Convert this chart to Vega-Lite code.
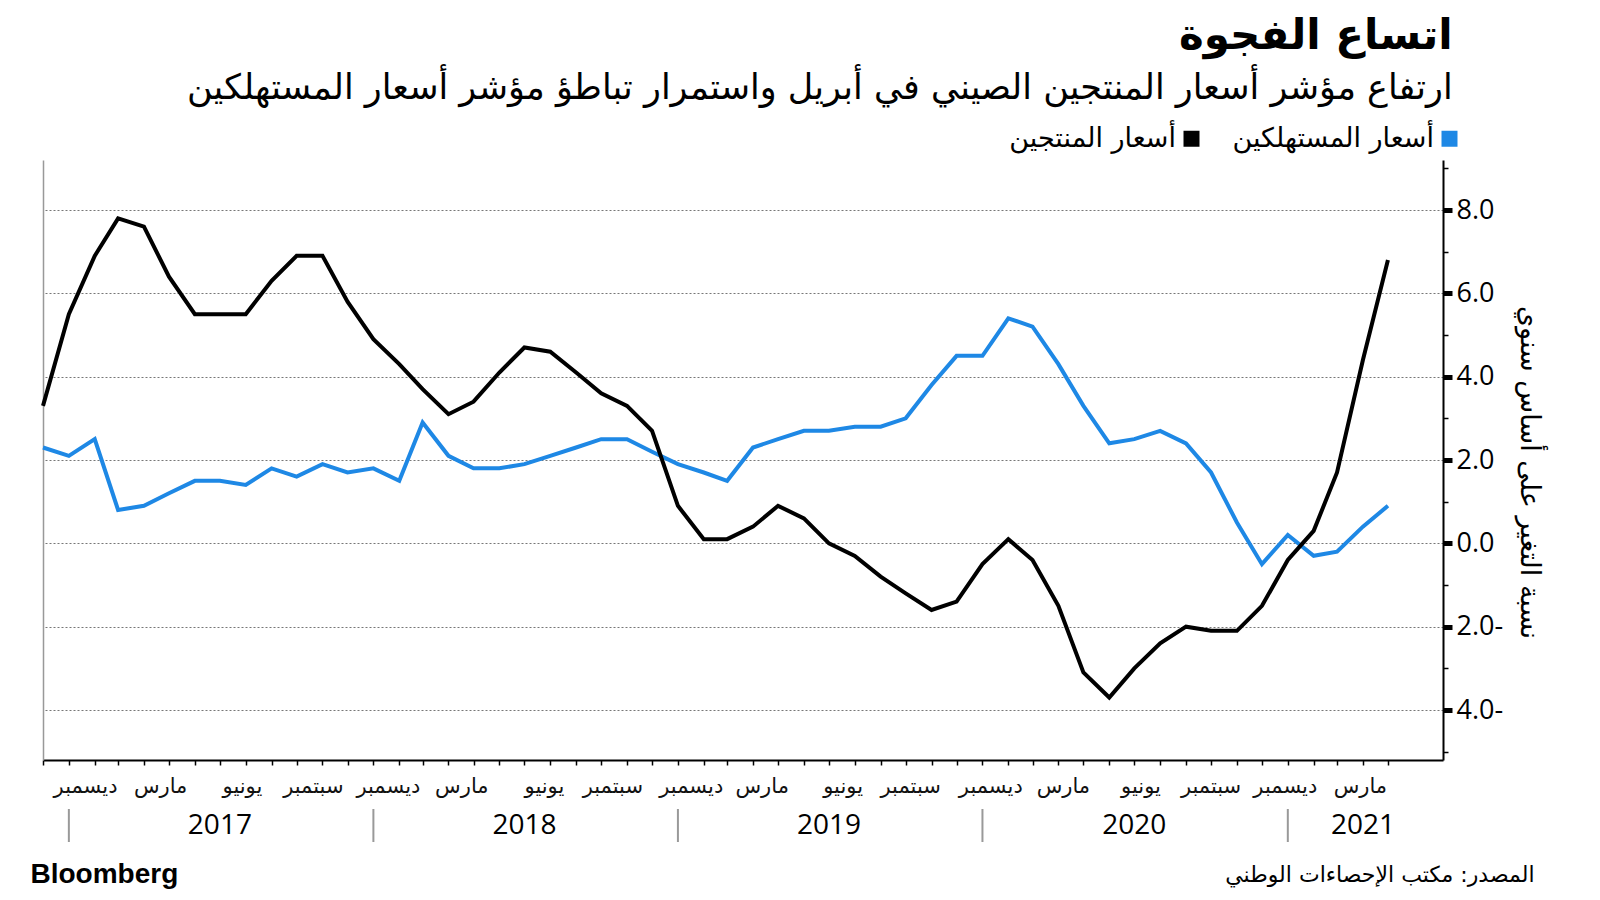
{
  "$schema": "https://vega.github.io/schema/vega-lite/v6.json",
  "padding": {"left": 30, "top": 15, "right": 10, "bottom": 10},
  "background": "white",
  "title": {
    "text": "اتساع الفجوة",
    "subtitle": "ارتفاع مؤشر أسعار المنتجين الصيني في أبريل واستمرار تباطؤ مؤشر أسعار المستهلكين",
    "anchor": "end",
    "dx": -90,
    "font": "DejaVu Sans",
    "fontSize": 42,
    "fontWeight": "bold",
    "color": "#000",
    "subtitleFont": "DejaVu Sans",
    "subtitleFontSize": 35,
    "subtitleColor": "#000",
    "subtitlePadding": 13,
    "offset": 18
  },
  "datasets": {
    "series": [
      {"date": "2016-11-30", "ppi": 3.3, "cpi": 2.3},
      {"date": "2016-12-31", "ppi": 5.5, "cpi": 2.1},
      {"date": "2017-01-31", "ppi": 6.9, "cpi": 2.5},
      {"date": "2017-02-28", "ppi": 7.8, "cpi": 0.8},
      {"date": "2017-03-31", "ppi": 7.6, "cpi": 0.9},
      {"date": "2017-04-30", "ppi": 6.4, "cpi": 1.2},
      {"date": "2017-05-31", "ppi": 5.5, "cpi": 1.5},
      {"date": "2017-06-30", "ppi": 5.5, "cpi": 1.5},
      {"date": "2017-07-31", "ppi": 5.5, "cpi": 1.4},
      {"date": "2017-08-31", "ppi": 6.3, "cpi": 1.8},
      {"date": "2017-09-30", "ppi": 6.9, "cpi": 1.6},
      {"date": "2017-10-31", "ppi": 6.9, "cpi": 1.9},
      {"date": "2017-11-30", "ppi": 5.8, "cpi": 1.7},
      {"date": "2017-12-31", "ppi": 4.9, "cpi": 1.8},
      {"date": "2018-01-31", "ppi": 4.3, "cpi": 1.5},
      {"date": "2018-02-28", "ppi": 3.7, "cpi": 2.9},
      {"date": "2018-03-31", "ppi": 3.1, "cpi": 2.1},
      {"date": "2018-04-30", "ppi": 3.4, "cpi": 1.8},
      {"date": "2018-05-31", "ppi": 4.1, "cpi": 1.8},
      {"date": "2018-06-30", "ppi": 4.7, "cpi": 1.9},
      {"date": "2018-07-31", "ppi": 4.6, "cpi": 2.1},
      {"date": "2018-08-31", "ppi": 4.1, "cpi": 2.3},
      {"date": "2018-09-30", "ppi": 3.6, "cpi": 2.5},
      {"date": "2018-10-31", "ppi": 3.3, "cpi": 2.5},
      {"date": "2018-11-30", "ppi": 2.7, "cpi": 2.2},
      {"date": "2018-12-31", "ppi": 0.9, "cpi": 1.9},
      {"date": "2019-01-31", "ppi": 0.1, "cpi": 1.7},
      {"date": "2019-02-28", "ppi": 0.1, "cpi": 1.5},
      {"date": "2019-03-31", "ppi": 0.4, "cpi": 2.3},
      {"date": "2019-04-30", "ppi": 0.9, "cpi": 2.5},
      {"date": "2019-05-31", "ppi": 0.6, "cpi": 2.7},
      {"date": "2019-06-30", "ppi": 0.0, "cpi": 2.7},
      {"date": "2019-07-31", "ppi": -0.3, "cpi": 2.8},
      {"date": "2019-08-31", "ppi": -0.8, "cpi": 2.8},
      {"date": "2019-09-30", "ppi": -1.2, "cpi": 3.0},
      {"date": "2019-10-31", "ppi": -1.6, "cpi": 3.8},
      {"date": "2019-11-30", "ppi": -1.4, "cpi": 4.5},
      {"date": "2019-12-31", "ppi": -0.5, "cpi": 4.5},
      {"date": "2020-01-31", "ppi": 0.1, "cpi": 5.4},
      {"date": "2020-02-29", "ppi": -0.4, "cpi": 5.2},
      {"date": "2020-03-31", "ppi": -1.5, "cpi": 4.3},
      {"date": "2020-04-30", "ppi": -3.1, "cpi": 3.3},
      {"date": "2020-05-31", "ppi": -3.7, "cpi": 2.4},
      {"date": "2020-06-30", "ppi": -3.0, "cpi": 2.5},
      {"date": "2020-07-31", "ppi": -2.4, "cpi": 2.7},
      {"date": "2020-08-31", "ppi": -2.0, "cpi": 2.4},
      {"date": "2020-09-30", "ppi": -2.1, "cpi": 1.7},
      {"date": "2020-10-31", "ppi": -2.1, "cpi": 0.5},
      {"date": "2020-11-30", "ppi": -1.5, "cpi": -0.5},
      {"date": "2020-12-31", "ppi": -0.4, "cpi": 0.2},
      {"date": "2021-01-31", "ppi": 0.3, "cpi": -0.3},
      {"date": "2021-02-28", "ppi": 1.7, "cpi": -0.2},
      {"date": "2021-03-31", "ppi": 4.4, "cpi": 0.4},
      {"date": "2021-04-30", "ppi": 6.8, "cpi": 0.9}
    ],
    "months": [
      {"d": "2017-01-20", "m": "ديسمبر"},
      {"d": "2017-04-20", "m": "مارس"},
      {"d": "2017-07-27", "m": "يونيو"},
      {"d": "2017-10-20", "m": "سبتمبر"},
      {"d": "2018-01-18", "m": "ديسمبر"},
      {"d": "2018-04-16", "m": "مارس"},
      {"d": "2018-07-24", "m": "يونيو"},
      {"d": "2018-10-14", "m": "سبتمبر"},
      {"d": "2019-01-16", "m": "ديسمبر"},
      {"d": "2019-04-11", "m": "مارس"},
      {"d": "2019-07-17", "m": "يونيو"},
      {"d": "2019-10-06", "m": "سبتمبر"},
      {"d": "2020-01-10", "m": "ديسمبر"},
      {"d": "2020-04-06", "m": "مارس"},
      {"d": "2020-07-08", "m": "يونيو"},
      {"d": "2020-09-30", "m": "سبتمبر"},
      {"d": "2020-12-28", "m": "ديسمبر"},
      {"d": "2021-03-28", "m": "مارس"}
    ],
    "seps": [
      {"d": "2016-12-31"},
      {"d": "2017-12-31"},
      {"d": "2018-12-31"},
      {"d": "2019-12-31"},
      {"d": "2020-12-31"}
    ],
    "years": [
      {"d": "2017-06-30", "yr": "2017"},
      {"d": "2018-06-30", "yr": "2018"},
      {"d": "2019-06-30", "yr": "2019"},
      {"d": "2020-06-30", "yr": "2020"},
      {"d": "2021-03-31", "yr": "2021"}
    ]
  },
  "spacing": 8,
  "vconcat": [
    {
      "width": 1400,
      "height": 600,
      "data": {"name": "series"},
      "transform": [{"fold": ["ppi", "cpi"], "as": ["k", "value"]}],
      "encoding": {
        "x": {
          "field": "date",
          "type": "temporal",
          "scale": {"domain": [{"year": 2016, "month": 11, "date": 30, "utc": true}, {"year": 2021, "month": 7, "date": 5, "utc": true}], "nice": false},
          "axis": {
            "orient": "bottom",
            "labels": false,
            "title": null,
            "grid": false,
            "domainColor": "#000",
            "domainWidth": 2,
            "tickColor": "#000",
            "tickWidth": 1.5,
            "tickSize": 5,
            "values": [
              {"year": 2016, "month": 11, "date": 30, "utc": true},
              {"year": 2016, "month": 12, "date": 31, "utc": true},
              {"year": 2017, "month": 1, "date": 31, "utc": true},
              {"year": 2017, "month": 2, "date": 28, "utc": true},
              {"year": 2017, "month": 3, "date": 31, "utc": true},
              {"year": 2017, "month": 4, "date": 30, "utc": true},
              {"year": 2017, "month": 5, "date": 31, "utc": true},
              {"year": 2017, "month": 6, "date": 30, "utc": true},
              {"year": 2017, "month": 7, "date": 31, "utc": true},
              {"year": 2017, "month": 8, "date": 31, "utc": true},
              {"year": 2017, "month": 9, "date": 30, "utc": true},
              {"year": 2017, "month": 10, "date": 31, "utc": true},
              {"year": 2017, "month": 11, "date": 30, "utc": true},
              {"year": 2017, "month": 12, "date": 31, "utc": true},
              {"year": 2018, "month": 1, "date": 31, "utc": true},
              {"year": 2018, "month": 2, "date": 28, "utc": true},
              {"year": 2018, "month": 3, "date": 31, "utc": true},
              {"year": 2018, "month": 4, "date": 30, "utc": true},
              {"year": 2018, "month": 5, "date": 31, "utc": true},
              {"year": 2018, "month": 6, "date": 30, "utc": true},
              {"year": 2018, "month": 7, "date": 31, "utc": true},
              {"year": 2018, "month": 8, "date": 31, "utc": true},
              {"year": 2018, "month": 9, "date": 30, "utc": true},
              {"year": 2018, "month": 10, "date": 31, "utc": true},
              {"year": 2018, "month": 11, "date": 30, "utc": true},
              {"year": 2018, "month": 12, "date": 31, "utc": true},
              {"year": 2019, "month": 1, "date": 31, "utc": true},
              {"year": 2019, "month": 2, "date": 28, "utc": true},
              {"year": 2019, "month": 3, "date": 31, "utc": true},
              {"year": 2019, "month": 4, "date": 30, "utc": true},
              {"year": 2019, "month": 5, "date": 31, "utc": true},
              {"year": 2019, "month": 6, "date": 30, "utc": true},
              {"year": 2019, "month": 7, "date": 31, "utc": true},
              {"year": 2019, "month": 8, "date": 31, "utc": true},
              {"year": 2019, "month": 9, "date": 30, "utc": true},
              {"year": 2019, "month": 10, "date": 31, "utc": true},
              {"year": 2019, "month": 11, "date": 30, "utc": true},
              {"year": 2019, "month": 12, "date": 31, "utc": true},
              {"year": 2020, "month": 1, "date": 31, "utc": true},
              {"year": 2020, "month": 2, "date": 29, "utc": true},
              {"year": 2020, "month": 3, "date": 31, "utc": true},
              {"year": 2020, "month": 4, "date": 30, "utc": true},
              {"year": 2020, "month": 5, "date": 31, "utc": true},
              {"year": 2020, "month": 6, "date": 30, "utc": true},
              {"year": 2020, "month": 7, "date": 31, "utc": true},
              {"year": 2020, "month": 8, "date": 31, "utc": true},
              {"year": 2020, "month": 9, "date": 30, "utc": true},
              {"year": 2020, "month": 10, "date": 31, "utc": true},
              {"year": 2020, "month": 11, "date": 30, "utc": true},
              {"year": 2020, "month": 12, "date": 31, "utc": true},
              {"year": 2021, "month": 1, "date": 31, "utc": true},
              {"year": 2021, "month": 2, "date": 28, "utc": true},
              {"year": 2021, "month": 3, "date": 31, "utc": true},
              {"year": 2021, "month": 4, "date": 30, "utc": true}
            ]
          }
        },
        "color": {
          "field": "k",
          "type": "nominal",
          "scale": {"domain": ["ppi", "cpi"], "range": ["#000000", "#1e88e5"]},
          "legend": {
            "orient": "none",
            "legendX": 1135,
            "legendY": -35,
            "direction": "horizontal",
            "title": null,
            "symbolType": "square",
            "symbolSize": 256,
            "symbolStrokeWidth": 0,
            "labelFontSize": 27,
            "labelFont": "DejaVu Sans",
            "labelColor": "#000",
            "labelAlign": "right",
            "labelOffset": -29,
            "labelLimit": 400,
            "columnPadding": 32,
            "labelExpr": "datum.value === 'ppi' ? 'أسعار المنتجين' : 'أسعار المستهلكين'",
            "encode": {
              "symbols": {"update": {"fill": {"scale": "color", "field": "value"}, "stroke": {"value": "transparent"}, "fillOpacity": {"value": 1}}}
            }
          }
        }
      },
      "layer": [
        {
          "transform": [{"filter": {"field": "k", "equal": "cpi"}}],
          "mark": {"type": "line", "strokeWidth": 4},
          "encoding": {
            "y": {
              "field": "value",
              "type": "quantitative",
              "scale": {"domain": [-5.2, 9.2], "nice": false, "zero": false},
              "axis": {"orient": "left", "labels": false, "ticks": false, "grid": false, "title": null, "domainColor": "#999", "domainWidth": 1.5}
            }
          }
        },
        {
          "transform": [{"filter": {"field": "k", "equal": "ppi"}}],
          "mark": {"type": "line", "strokeWidth": 4},
          "encoding": {
            "y": {
              "field": "value",
              "type": "quantitative",
              "scale": {"domain": [-5.2, 9.2], "nice": false, "zero": false},
              "axis": {
                "orient": "right",
                "values": [-5, -4, -3, -2, -1, 0, 1, 2, 3, 4, 5, 6, 7, 8, 9],
                "labelExpr": "datum.value % 2 !== 0 ? '' : (datum.value < 0 ? format(-datum.value, '.1f') + '-' : format(datum.value, '.1f'))",
                "labelOverlap": false,
                "labelFont": "Open Sans",
                "labelFontSize": 27,
                "labelColor": "#000",
                "labelPadding": 4,
                "domainColor": "#000",
                "domainWidth": 2,
                "tickColor": "#000",
                "tickSize": {"condition": {"test": "datum.value % 2 === 0", "value": 9}, "value": 5},
                "tickWidth": {"condition": {"test": "datum.value % 2 === 0", "value": 5}, "value": 1.5},
                "grid": true,
                "gridColor": "#777",
                "gridDash": [2, 2],
                "gridWidth": 1,
                "gridOpacity": {"condition": {"test": "datum.value % 2 === 0", "value": 1}, "value": 0},
                "title": "نسبة التغير على أساس سنوي",
                "titleFont": "DejaVu Sans",
                "titleFontSize": 27,
                "titleFontWeight": "normal",
                "titleColor": "#000",
                "titlePadding": 12,
                "titleY": 312
              }
            }
          }
        }
      ],
      "resolve": {"axis": {"y": "independent"}}
    },
    {
      "width": 1400,
      "height": 26,
      "data": {"name": "months"},
      "mark": {"type": "text", "fontSize": 21, "font": "DejaVu Sans", "color": "#111", "align": "center", "baseline": "middle"},
      "encoding": {
        "x": {
          "field": "d",
          "type": "temporal",
          "scale": {"domain": [{"year": 2016, "month": 11, "date": 30, "utc": true}, {"year": 2021, "month": 7, "date": 5, "utc": true}], "nice": false},
          "axis": null
        },
        "y": {"datum": 0.5, "type": "quantitative", "scale": {"domain": [0, 1]}, "axis": null},
        "text": {"field": "m"}
      }
    },
    {
      "width": 1400,
      "height": 33,
      "layer": [
        {
          "data": {"name": "seps"},
          "mark": {"type": "rule", "color": "#999", "strokeWidth": 2},
          "encoding": {
            "x": {
              "field": "d",
              "type": "temporal",
              "scale": {"domain": [{"year": 2016, "month": 11, "date": 30, "utc": true}, {"year": 2021, "month": 7, "date": 5, "utc": true}], "nice": false},
              "axis": {"orient": "bottom", "labels": false, "ticks": false, "domain": false, "grid": false, "title": "Bloomberg", "titleFont": "Liberation Sans", "titleFontWeight": "bold", "titleFontSize": 28, "titleColor": "#000", "titleAlign": "left", "titleBaseline": "middle", "titleX": -13, "titleY": 32}
            },
            "y": {"datum": 0, "type": "quantitative", "scale": {"domain": [0, 1]}, "axis": null},
            "y2": {"datum": 1}
          }
        },
        {
          "data": {"name": "years"},
          "mark": {"type": "text", "fontSize": 28, "font": "Open Sans", "color": "#000", "align": "center", "baseline": "middle"},
          "encoding": {
            "x": {
              "field": "d",
              "type": "temporal",
              "scale": {"domain": [{"year": 2016, "month": 11, "date": 30, "utc": true}, {"year": 2021, "month": 7, "date": 5, "utc": true}], "nice": false},
              "axis": {"orient": "bottom", "labels": false, "ticks": false, "domain": false, "grid": false, "title": "المصدر: مكتب الإحصاءات الوطني", "titleFont": "DejaVu Sans", "titleFontWeight": "normal", "titleFontSize": 22, "titleColor": "#000", "titleAlign": "right", "titleBaseline": "middle", "titleX": 1491, "titleY": 32}
            },
            "y": {"datum": 0.5, "type": "quantitative", "scale": {"domain": [0, 1]}, "axis": null},
            "text": {"field": "yr"}
          }
        }
      ],
      "resolve": {"axis": {"x": "independent"}}
    }
  ],
  "config": {
    "view": {"stroke": null},
    "font": "DejaVu Sans"
  }
}
